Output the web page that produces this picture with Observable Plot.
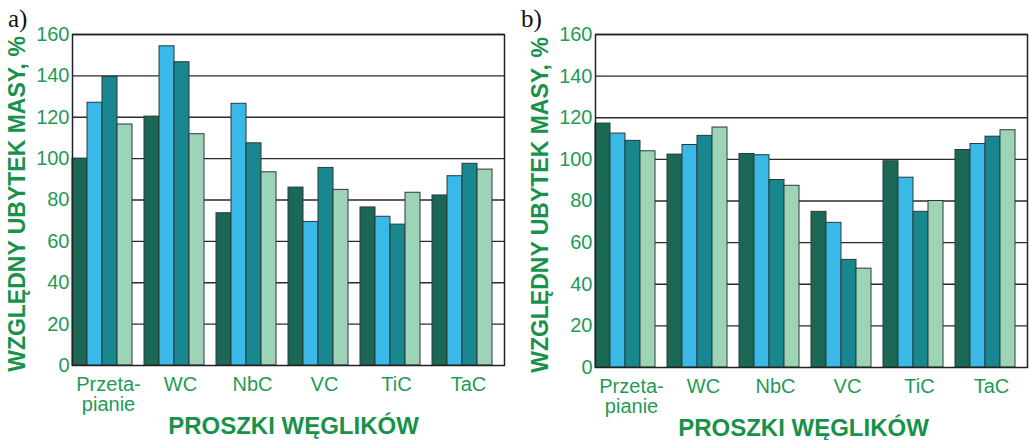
<!DOCTYPE html>
<html>
<head>
<meta charset="utf-8">
<script src="https://cdn.jsdelivr.net/npm/d3@7"></script>
<script src="https://cdn.jsdelivr.net/npm/@observablehq/plot@0.6"></script>
<style>
  body { margin: 0; background: #fff; }
  #wrap { position: relative; width: 1030px; height: 440px; font-family: "Liberation Sans", Arial, sans-serif; }
  .panel { position: absolute; top: 0; width: 515px; height: 440px; }
  .tag { position: absolute; top: 6px; font-family: "Liberation Serif", "Times New Roman", serif; font-size: 25px; line-height: 1; color: #111; }
</style>
</head>
<body>
<div id="wrap"></div>
<script>
// Carbide powders (groups) and the four measurement series in each group
const categories = ["Przeta-\npianie", "WC", "NbC", "VC", "TiC", "TaC"];
const seriesNames = ["1", "2", "3", "4"];
const seriesColors = ["#1c6856", "#38b9e7", "#18878f", "#9dd3b6"];
const yTicks = [0, 20, 40, 60, 80, 100, 120, 140, 160];

// Panel a) relative mass loss, %
const a1 = [100.0, 120.3, 73.6, 86.0, 76.4, 82.2];
const a2 = [127.0, 154.3, 126.5, 69.4, 71.9, 91.5];
const a3 = [139.5, 146.6, 107.4, 95.5, 68.1, 97.5];
const a4 = [116.5, 111.8, 93.4, 84.9, 83.5, 94.7];

// Panel b) relative mass loss, %
const b1 = [117.2, 102.3, 102.6, 74.8, 99.1, 104.5];
const b2 = [112.4, 106.9, 102.0, 69.5, 91.2, 107.4];
const b3 = [108.9, 111.3, 90.1, 51.7, 74.8, 110.9];
const b4 = [103.9, 115.3, 87.3, 47.5, 80.0, 114.0];

const yLabel = "WZGLĘDNY UBYTEK MASY, %";
const xLabel = "PROSZKI WĘGLIKÓW";
const green = "#1f9a55";
const labelGreen = "#18924a";

function rowsFrom(seriesValues) {
  const rows = [];
  seriesNames.forEach((s, j) => {
    categories.forEach((c, i) => rows.push({category: c, series: s, value: seriesValues[j][i]}));
  });
  return rows;
}

function chart(seriesValues, m) {
  return Plot.plot({
    width: 515,
    height: 440,
    marginLeft: m.left,
    marginRight: m.right,
    marginTop: 34,
    marginBottom: m.bottom,
    style: {fontFamily: '"Liberation Sans", Arial, sans-serif', background: "transparent", overflow: "visible"},
    // facets touch each other so the grid rules run continuously across groups
    fx: {domain: categories, padding: 0},
    // bars fill the left part of each facet, the rest is the gap between groups
    x: {domain: seriesNames, paddingInner: 0, paddingOuter: 0.4, align: 0, axis: null},
    y: {domain: [0, 160]},
    color: {domain: seriesNames, range: seriesColors},
    marks: [
      Plot.ruleY(yTicks.slice(1), {stroke: "#2b2b2b", strokeWidth: 1.3}),
      Plot.barY(rowsFrom(seriesValues), {
        fx: "category", x: "series", y: "value", fill: "series",
        stroke: "#2c3838", strokeWidth: 1
      }),
      Plot.frame({facet: "super", stroke: "#222", strokeWidth: 1.5}),
      Plot.axisY({ticks: yTicks, tickSize: 0, tickPadding: 3, fontSize: 20, color: green, label: null}),
      Plot.axisFx({anchor: "bottom", tickSize: 0, tickPadding: 11, fontSize: 20, color: green, label: null}),
      // axis titles
      Plot.text([yLabel], {
        facet: "super", frameAnchor: "left", rotate: -90, dx: -55, dy: 4,
        textAnchor: "middle", lineAnchor: "middle",
        fontSize: 23, fontWeight: "bold", fill: labelGreen
      }),
      Plot.text([xLabel], {
        facet: "super", frameAnchor: "bottom", dx: m.titleDx, dy: 61,
        textAnchor: "middle", lineAnchor: "middle",
        fontSize: 24, fontWeight: "bold", fill: labelGreen
      })
    ]
  });
}

const wrap = document.getElementById("wrap");
[
  {tag: "a)", values: [a1, a2, a3, a4], left: 0, m: {left: 72, right: 11, bottom: 75, titleDx: 5}},
  {tag: "b)", values: [b1, b2, b3, b4], left: 515, m: {left: 80, right: 3, bottom: 73, titleDx: -8}}
].forEach(p => {
  const div = document.createElement("div");
  div.className = "panel";
  div.style.left = p.left + "px";
  div.appendChild(chart(p.values, p.m));
  const tag = document.createElement("div");
  tag.className = "tag";
  tag.textContent = p.tag;
  tag.style.left = (p.left === 0 ? 8 : 6) + "px";
  div.appendChild(tag);
  wrap.appendChild(div);
});
</script>
</body>
</html>
